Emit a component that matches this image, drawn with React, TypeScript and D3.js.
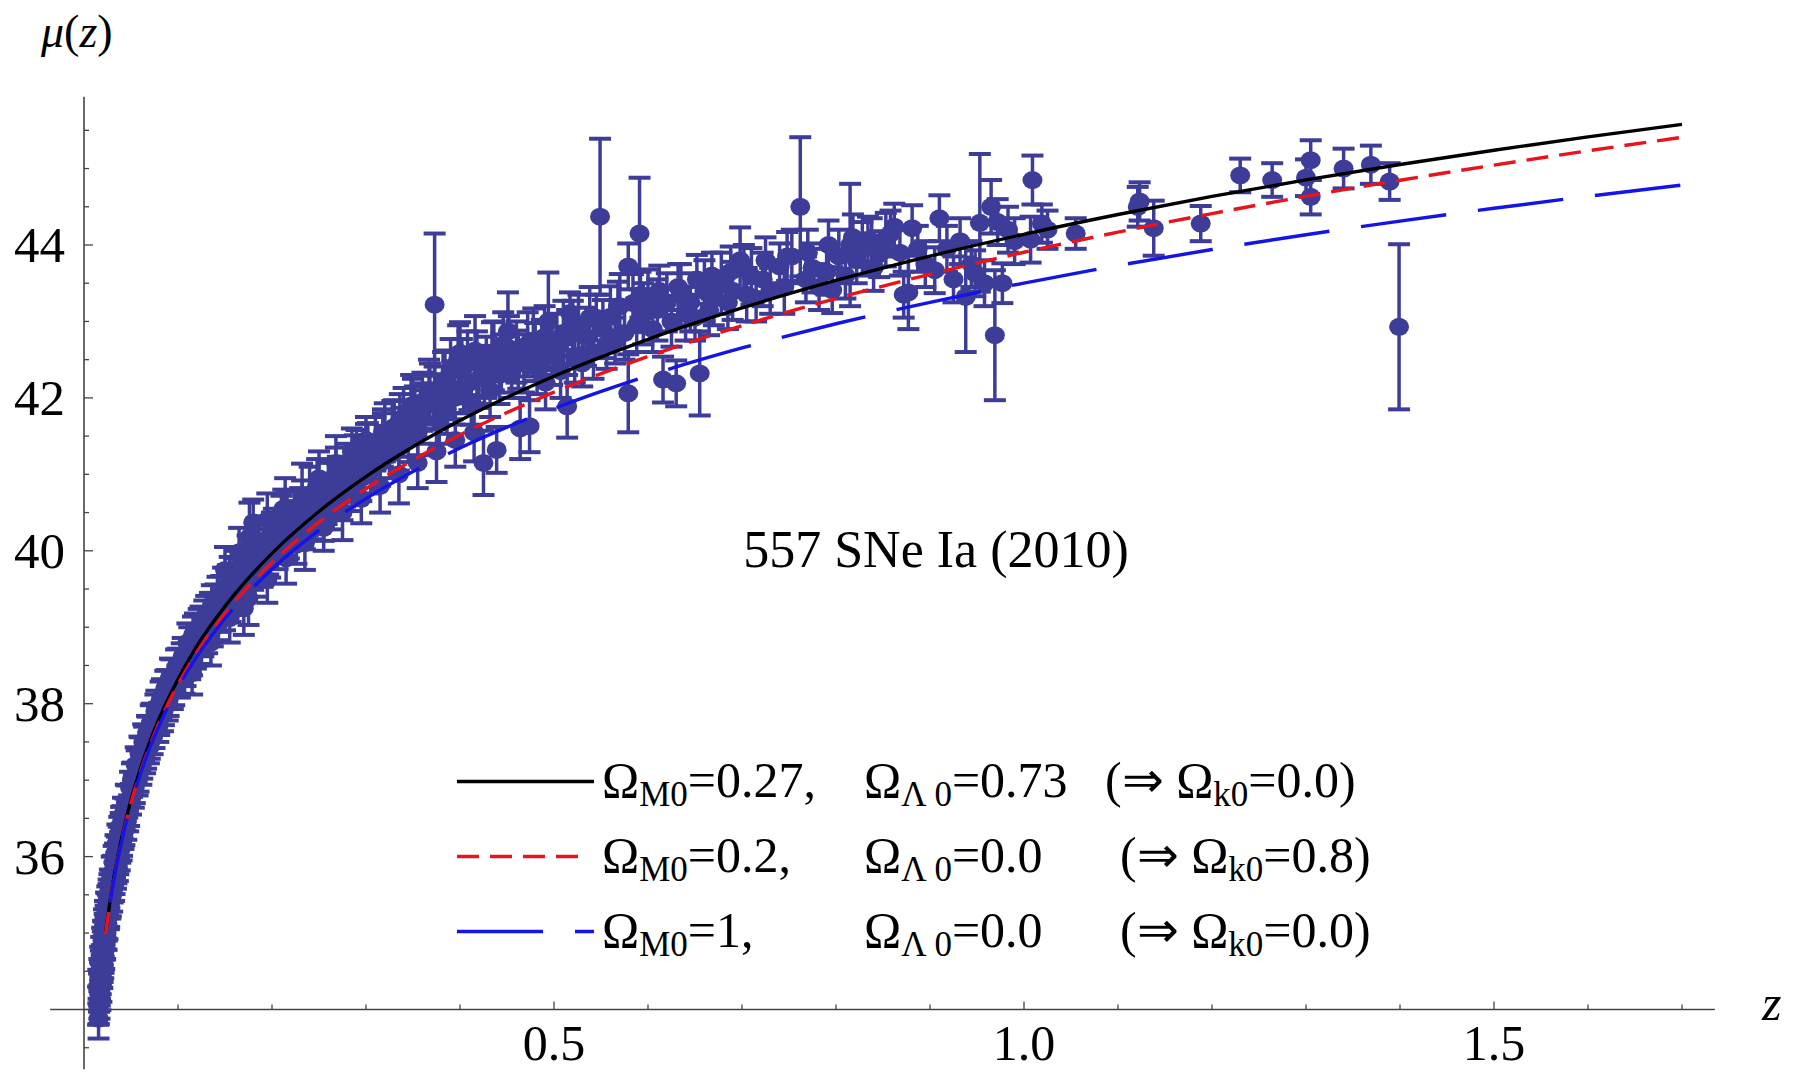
import React from "react";
import * as d3 from "d3";

// ---------- data ----------
const snZ: number[] = [
  0.0150,0.0155,0.0160,0.0165,0.0170,0.0175,0.0180,0.0185,0.0190,0.0195,
  0.0200,0.0205,0.0210,0.0215,0.0220,0.0225,0.0230,0.0240,0.0245,0.0250,
  0.0260,0.0265,0.0270,0.0280,0.0290,0.0300,0.0310,0.0320,0.0330,0.0340,
  0.0350,0.0360,0.0370,0.0380,0.0390,0.0400,0.0410,0.0420,0.0440,0.0450,
  0.0460,0.0480,0.0490,0.0500,0.0520,0.0540,0.0560,0.0580,0.0600,0.0620,
  0.0640,0.0660,0.0680,0.0700,0.0720,0.0750,0.0770,0.0800,0.0830,0.0850,
  0.0880,0.0900,0.0930,0.0960,0.1000,
  0.102,0.105,0.108,0.110,0.113,0.116,0.119,0.122,0.125,0.128,
  0.131,0.134,0.137,0.140,0.143,0.146,0.150,0.153,0.156,0.160,
  0.163,0.166,0.170,0.172,0.176,0.178,0.182,0.186,0.190,0.194,
  0.198,0.202,0.206,0.210,0.214,0.218,0.222,0.226,0.230,0.235,
  0.240,0.245,0.250,0.255,0.260,0.265,0.270,0.275,0.280,0.285,
  0.290,0.295,0.300,
  0.305,0.310,0.315,0.320,0.325,0.330,0.335,0.340,0.345,0.350,
  0.355,0.360,0.363,0.367,0.373,0.373,0.378,0.382,0.386,0.390,
  0.394,0.398,0.400,0.404,0.408,0.412,0.416,0.420,0.425,0.428,
  0.432,0.436,0.439,0.442,0.446,0.451,0.455,0.460,0.464,0.468,
  0.474,0.478,0.482,0.487,0.491,0.494,0.498,
  0.503,0.507,0.510,0.514,0.514,0.517,0.522,0.526,0.530,0.534,
  0.538,0.542,0.549,0.552,0.556,0.560,0.565,0.570,0.575,0.579,
  0.579,0.584,0.588,0.591,0.595,0.600,0.605,0.610,0.616,0.620,
  0.625,0.630,0.635,0.640,0.645,0.650,0.655,0.660,0.665,0.670,
  0.678,0.685,0.690,0.698,0.705,0.710,
  0.715,0.722,0.730,0.740,0.745,0.753,0.762,0.768,0.775,0.782,
  0.790,0.796,0.803,0.810,0.815,0.822,0.828,0.834,0.840,0.846,
  0.853,0.862,0.868,0.872,0.877,0.881,0.887,0.895,0.905,0.910,
  0.918,0.925,0.932,0.938,0.944,0.948,0.953,0.958,0.965,0.969,
  0.972,0.977,0.983,0.990,1.007,1.009,1.019,1.025,
  1.055,1.121,1.123,1.138,1.188,1.230,1.264,1.300,1.305,1.305,
  1.340,1.369,1.389,1.399,
  // second pass, dense low-z column
  0.0152,0.0158,0.0163,0.0168,0.0172,0.0178,0.0183,0.0188,0.0193,0.0198,
  0.0203,0.0208,0.0213,0.0218,0.0223,0.0228,0.0235,0.0242,0.0248,0.0255,
  0.0262,0.0268,0.0275,0.0285,0.0295,0.0305,0.0315,0.0325,0.0335,0.0345,
  0.0355,0.0365,0.0375,0.0385,0.0395,0.0405,0.0415,0.0430,0.0445,0.0470,
  0.0510,0.0530,0.0550,0.0570,0.0590,0.0610,0.0630,0.0650,0.0670,0.0690,
  0.0710,0.0730,0.0760,0.0790,0.0815,0.0840,0.0865,0.0890,0.0915,0.0945,0.0980,
  // second pass, 0.1 - 0.3
  0.104,0.107,0.112,0.115,0.118,0.121,0.124,0.127,0.130,0.133,
  0.136,0.139,0.142,0.145,0.148,0.152,0.155,0.158,0.162,0.168,
  0.174,0.180,0.184,0.188,0.192,0.196,0.200,0.208,0.216,0.224,
  0.232,0.238,0.248,0.258,0.268,0.278,0.288,
  // second pass, 0.3 - 0.5
  0.302,0.308,0.318,0.328,0.338,0.348,0.358,0.368,0.376,0.384,
  0.392,0.402,0.410,0.418,0.426,0.434,0.444,0.452,0.462,0.472,
  0.480,0.490,
  // second pass, 0.5 - 0.86
  0.520,0.545,0.568,0.592,0.612,0.632,0.652,0.668,0.688,0.702,
  0.725,0.748,0.770,0.792,0.818,0.838,0.858,
  // upper edge of the band, 0.15 - 0.35
  0.150,0.165,0.180,0.195,0.212,0.232,0.250,0.268,0.285,0.300,
  0.318,0.336,0.352,
  // lower edge of the band, 0.11 - 0.42
  0.115,0.135,0.155,0.175,0.195,0.215,0.235,0.255,0.275,0.295,
  0.315,0.335,0.355,0.375,0.395,0.415,
];
const snMu: number[] = [
  34.05,33.88,34.22,34.10,34.38,34.20,34.55,34.35,34.62,34.48,
  34.80,34.62,34.92,34.75,35.05,34.88,35.15,35.00,35.30,35.12,
  35.42,35.25,35.55,35.40,35.62,35.50,35.80,35.62,35.95,35.78,
  36.05,35.88,36.18,36.02,36.35,36.15,36.45,36.30,36.55,36.42,
  36.72,36.60,36.90,36.75,37.02,36.90,37.18,37.05,37.35,37.22,
  37.48,37.35,37.62,37.48,37.78,37.62,37.95,37.80,38.10,37.92,
  38.22,38.05,38.35,38.20,38.50,
  38.30,38.62,38.45,38.80,38.55,38.90,38.68,38.98,38.75,39.10,
  38.88,39.20,38.98,39.30,39.05,39.42,39.20,39.55,39.30,39.62,
  39.40,39.75,39.25,39.60,40.18,39.85,39.65,40.00,39.78,40.15,
  39.90,40.25,40.02,40.40,40.55,40.18,40.35,40.08,40.50,40.30,
  40.72,40.45,40.62,40.40,40.80,40.58,40.90,40.70,41.05,40.82,
  41.20,40.95,41.30,
  41.05,41.40,41.15,41.55,41.25,41.62,41.35,41.75,41.48,41.85,
  41.55,41.95,41.89,42.10,43.22,42.06,41.70,42.20,41.85,42.35,
  42.00,42.50,42.59,42.15,42.45,41.95,42.62,42.25,41.15,42.40,
  42.10,42.55,41.32,42.30,42.70,42.87,42.35,42.60,41.60,42.45,
  41.63,42.75,42.40,42.62,42.20,43.00,42.55,
  42.70,42.35,42.85,42.80,41.89,43.11,42.55,42.95,42.45,42.80,
  43.05,42.60,44.37,42.90,42.70,43.06,42.75,43.20,42.85,43.72,
  42.06,43.24,42.95,44.15,43.10,43.30,42.90,43.15,42.24,43.25,
  43.00,42.19,43.35,43.10,43.25,43.05,42.32,43.40,43.15,43.30,
  43.50,43.25,43.40,43.80,43.35,43.59,
  43.30,43.55,43.40,43.72,43.45,43.85,44.50,43.55,43.70,43.45,
  43.65,43.41,43.85,43.60,44.00,43.80,43.95,44.07,43.70,43.88,
  44.07,44.24,43.90,43.35,43.38,44.22,43.95,43.75,43.67,44.35,
  43.95,43.55,44.05,43.32,43.75,43.63,44.29,43.50,44.50,42.82,
  44.30,43.50,44.20,44.05,44.07,44.85,44.28,44.20,
  44.15,44.50,44.57,44.22,44.28,44.91,44.85,44.88,45.11,44.63,
  45.00,45.05,44.83,42.93,
  34.30,34.05,34.45,34.28,34.60,34.40,34.72,34.50,34.85,34.60,
  34.95,34.70,35.08,34.85,35.20,35.00,35.30,35.12,35.40,35.28,
  35.50,35.30,35.62,35.45,35.78,35.60,35.92,35.72,36.05,35.85,
  36.20,35.98,36.30,36.12,36.42,36.22,36.55,36.35,36.70,36.55,
  37.00,36.85,37.20,37.00,37.35,37.15,37.50,37.30,37.62,37.42,
  37.75,37.55,37.90,37.70,38.05,37.85,38.20,38.00,38.35,38.15,38.48,
  38.55,38.35,38.75,38.60,38.92,38.72,39.02,38.85,39.15,39.00,
  39.28,39.05,39.40,39.18,39.50,39.35,39.65,39.45,39.72,39.60,
  39.90,39.75,40.05,39.85,40.10,39.95,40.20,40.15,40.45,40.30,
  40.60,40.50,40.85,40.65,41.00,40.90,41.15,
  41.35,41.20,41.45,41.60,41.55,41.90,41.75,42.05,41.95,42.20,
  42.10,42.35,42.20,42.45,42.30,42.55,42.45,42.65,42.50,42.70,
  42.60,42.80,
  42.95,43.05,43.20,43.35,43.40,43.45,43.55,43.60,43.65,43.70,
  43.80,43.85,43.90,44.00,44.10,44.05,44.15,
  39.75,39.98,40.37,40.40,40.55,40.72,40.95,41.15,41.30,41.45,
  41.55,41.70,41.85,
  38.40,38.80,39.12,39.38,39.62,39.90,40.10,40.30,40.50,40.68,
  40.85,41.00,41.15,41.30,41.45,41.55,
];
const snErr: number[] = [
  0.25,0.26,0.25,0.22,0.24,0.21,0.22,0.25,0.22,0.20,
  0.22,0.21,0.23,0.22,0.20,0.22,0.21,0.22,0.22,0.20,
  0.22,0.20,0.22,0.21,0.20,0.22,0.21,0.20,0.22,0.20,
  0.21,0.20,0.21,0.20,0.22,0.20,0.21,0.20,0.21,0.20,
  0.21,0.20,0.21,0.20,0.21,0.20,0.21,0.20,0.21,0.20,
  0.22,0.20,0.21,0.20,0.22,0.20,0.22,0.21,0.22,0.20,
  0.22,0.21,0.23,0.22,0.22,
  0.22,0.24,0.22,0.25,0.23,0.24,0.22,0.26,0.23,0.25,
  0.22,0.25,0.23,0.26,0.22,0.25,0.24,0.26,0.23,0.28,
  0.24,0.30,0.35,0.25,0.45,0.26,0.25,0.28,0.25,0.30,
  0.25,0.30,0.26,0.32,0.40,0.28,0.30,0.25,0.32,0.28,
  0.38,0.30,0.30,0.27,0.35,0.30,0.33,0.30,0.35,0.30,
  0.38,0.30,0.36,
  0.30,0.35,0.30,0.38,0.30,0.35,0.30,0.38,0.32,0.40,
  0.30,0.38,0.30,0.40,0.93,0.35,0.30,0.40,0.32,0.42,
  0.35,0.45,0.40,0.35,0.42,0.30,0.45,0.38,0.42,0.40,
  0.35,0.45,0.30,0.38,0.42,0.51,0.35,0.40,0.40,0.38,
  0.34,0.42,0.35,0.40,0.35,0.64,0.38,
  0.40,0.35,0.42,0.35,0.41,0.27,0.35,0.40,0.30,0.38,
  0.40,0.35,1.02,0.38,0.32,0.40,0.30,0.42,0.35,0.30,
  0.51,0.38,0.35,0.73,0.40,0.38,0.30,0.40,0.30,0.38,
  0.33,0.30,0.40,0.35,0.38,0.30,0.55,0.40,0.33,0.35,
  0.40,0.35,0.38,0.43,0.35,0.37,
  0.30,0.35,0.30,0.30,0.35,0.35,0.91,0.30,0.32,0.30,
  0.30,0.30,0.35,0.30,0.80,0.30,0.35,0.30,0.30,0.30,
  0.35,0.30,0.30,0.30,0.48,0.30,0.30,0.30,0.30,0.30,
  0.30,0.30,0.30,0.72,0.30,0.30,0.90,0.30,0.35,0.85,
  0.30,0.26,0.30,0.30,0.30,0.32,0.25,0.25,
  0.20,0.26,0.25,0.36,0.23,0.22,0.22,0.24,0.26,0.23,
  0.26,0.25,0.24,1.08,
  0.22,0.24,0.21,0.23,0.22,0.20,0.23,0.21,0.22,0.24,
  0.21,0.22,0.23,0.20,0.22,0.21,0.23,0.22,0.21,0.22,
  0.20,0.22,0.21,0.23,0.22,0.20,0.22,0.21,0.23,0.20,
  0.22,0.21,0.22,0.20,0.23,0.21,0.22,0.20,0.24,0.22,
  0.22,0.21,0.23,0.20,0.22,0.21,0.23,0.21,0.22,0.20,
  0.23,0.21,0.22,0.20,0.24,0.21,0.23,0.22,0.24,0.22,0.23,
  0.24,0.22,0.25,0.23,0.26,0.22,0.25,0.23,0.26,0.24,
  0.27,0.23,0.26,0.24,0.28,0.25,0.27,0.24,0.28,0.25,
  0.30,0.26,0.30,0.27,0.30,0.26,0.30,0.28,0.32,0.28,
  0.32,0.30,0.35,0.30,0.35,0.32,0.36,
  0.32,0.30,0.35,0.36,0.32,0.40,0.35,0.40,0.36,0.42,
  0.38,0.42,0.36,0.42,0.38,0.44,0.38,0.42,0.38,0.42,
  0.38,0.40,
  0.32,0.30,0.32,0.30,0.33,0.30,0.32,0.30,0.33,0.30,
  0.30,0.32,0.30,0.32,0.30,0.30,0.30,
  0.30,0.32,0.30,0.35,0.25,0.42,0.35,0.35,0.30,0.30,
  0.30,0.35,0.30,
  0.28,0.30,0.32,0.35,0.30,0.33,0.35,0.30,0.36,0.32,
  0.35,0.38,0.33,0.40,0.35,0.38,
];

// model curves
const curveZ = [0.023,0.03,0.04,0.05,0.06,0.07,0.08,0.1,0.12,0.15,0.2,0.25,0.3,0.35,0.4,0.45,0.5,0.6,0.7,0.8,0.9,1.0,1.1,1.2,1.3,1.4,1.5,1.6,1.7];
const muLCDM = [35.007,35.596,36.237,36.738,37.149,37.500,37.806,38.319,38.753,39.273,39.966,40.514,40.970,41.360,41.703,42.008,42.284,42.766,43.177,43.536,43.855,44.140,44.399,44.635,44.852,45.053,45.240,45.415,45.578];
const muOpen = [34.990,35.573,36.208,36.702,37.107,37.451,37.751,38.253,38.669,39.179,39.847,40.374,40.812,41.187,41.516,41.809,42.075,42.542,42.945,43.300,43.617,43.905,44.168,44.411,44.637,44.847,45.045,45.232,45.408];
const muEdS = [34.980,35.561,36.190,36.680,37.081,37.421,37.715,38.210,38.615,39.114,39.760,40.266,40.682,41.036,41.344,41.617,41.862,42.290,42.653,42.970,43.250,43.502,43.731,43.941,44.134,44.313,44.480,44.637,44.784];

const yTickLabels = [36, 38, 40, 42, 44];
const xTickLabels = ["0.5", "1.0", "1.5"];
const legendOmegaM = ["0.27", "0.2", "1"];
const legendOmegaL = ["0.73", "0.0", "0.0"];
const legendOmegaK = ["0.0", "0.8", "0.0"];
const annotation = "557 SNe Ia (2010)";
const xAxisTitle = "z";

// ---------- styles ----------
const W = 1802, H = 1073;
const SERIF = '"Liberation Serif", "Times New Roman", Times, serif';
const PT = "#3d3d99";
const AXIS = "#444";

export default function App() {
  const x = d3.scaleLinear().domain([0, 1.5]).range([84, 1494]);
  const y = d3.scaleLinear().domain([34, 44]).range([1009.5, 245]);

  const line = d3
    .line<[number, number]>()
    .x((d) => x(d[0]))
    .y((d) => y(d[1]))
    .curve(d3.curveMonotoneX);
  const pathOf = (mu: number[]) =>
    line(curveZ.map((z, i) => [z, mu[i]] as [number, number])) || "";

  const yMinor = d3.range(33.5, 46.0, 0.5);
  const xMinor = d3.range(1, 18).map((k) => k / 10);
  const capHalf = 11;

  const legendColors = ["#000000", "#e8141c", "#1414e6"];
  const legendDash = ["none", "22 11", "86 32"];
  const legendEnd = [594, 578, 594];
  const col3X = [1105, 1120, 1120];

  return (
    <svg
      width={W}
      height={H}
      viewBox={`0 0 ${W} ${H}`}
      style={{ position: "absolute", left: 0, top: 0, background: "#fff", fontFamily: SERIF }}
    >
      <rect x={0} y={0} width={W} height={H} fill="#fff" />

      {/* axes */}
      <line x1={x(0)} x2={x(0)} y1={y(33.22)} y2={y(45.94)} stroke={AXIS} strokeWidth={1.6} />
      <line x1={x(-0.036)} x2={x(1.735)} y1={y(34)} y2={y(34)} stroke={AXIS} strokeWidth={1.6} />
      {yMinor.map((v) => {
        const major = yTickLabels.includes(v);
        return (
          <line key={"yt" + v} x1={x(0)} x2={x(0) + (major ? 9 : 5)} y1={y(v)} y2={y(v)} stroke={AXIS} strokeWidth={1.3} />
        );
      })}
      {xMinor.map((v) => {
        const major = Math.abs(v * 2 - Math.round(v * 2)) < 1e-9;
        return (
          <line key={"xt" + v} x1={x(v)} x2={x(v)} y1={y(34)} y2={y(34) - (major ? 8 : 5)} stroke={AXIS} strokeWidth={1.3} />
        );
      })}
      {yTickLabels.map((v) => (
        <text key={"yl" + v} x={65} y={y(v) + 17} fontSize={51} textAnchor="end" fill="#000">
          {v}
        </text>
      ))}
      {xTickLabels.map((s) => (
        <text key={"xl" + s} x={x(+s)} y={1060} fontSize={50} textAnchor="middle" fill="#000">
          {s}
        </text>
      ))}
      <text x={41} y={47} fontSize={46} fill="#000">
        <tspan fontStyle="italic">{"\u03bc"}</tspan>
        <tspan>(</tspan>
        <tspan fontStyle="italic">z</tspan>
        <tspan>)</tspan>
      </text>
      <text x={1762} y={1020} fontSize={50} fontStyle="italic" fill="#000">{xAxisTitle}</text>

      {/* data: error bars + points */}
      <g stroke={PT} strokeWidth={3.5} fill="none">
        {snZ.map((z, i) => {
          const cx = x(z);
          const top = y(snMu[i] + snErr[i]);
          const bot = y(snMu[i] - snErr[i]);
          return (
            <g key={"e" + i}>
              <line x1={cx} x2={cx} y1={top} y2={bot} />
              <line x1={cx - capHalf} x2={cx + capHalf} y1={top} y2={top} strokeWidth={4} />
              <line x1={cx - capHalf} x2={cx + capHalf} y1={bot} y2={bot} strokeWidth={4} />
            </g>
          );
        })}
      </g>
      <g fill={PT}>
        {snZ.map((z, i) => (
          <ellipse key={"p" + i} cx={x(z)} cy={y(snMu[i])} rx={10} ry={9} />
        ))}
      </g>

      {/* model curves */}
      <path d={pathOf(muLCDM)} fill="none" stroke={legendColors[0]} strokeWidth={3.4} />
      <path d={pathOf(muOpen)} fill="none" stroke={legendColors[1]} strokeWidth={3.4} strokeDasharray={legendDash[1]} />
      <path d={pathOf(muEdS)} fill="none" stroke={legendColors[2]} strokeWidth={3.4} strokeDasharray={legendDash[2]} strokeDashoffset={86} />

      {/* annotation */}
      <text x={936} y={567} fontSize={52} textAnchor="middle" fill="#000">{annotation}</text>

      {/* legend */}
      {legendOmegaM.map((m, i) => {
        const ly = 781.5 + i * 75;
        const base = ly + 15;
        return (
          <g key={"lg" + i}>
            <line x1={457} x2={legendEnd[i]} y1={ly} y2={ly} stroke={legendColors[i]} strokeWidth={3.4}
              strokeDasharray={legendDash[i] === "none" ? undefined : legendDash[i]} />
            <text x={602} y={base} fontSize={50} fill="#000">
              <tspan>{"\u03a9"}</tspan>
              <tspan fontSize={35} dy={9}>M0</tspan>
              <tspan dy={-9}>{"=" + m + ","}</tspan>
            </text>
            <text x={864} y={base} fontSize={50} fill="#000">
              <tspan>{"\u03a9"}</tspan>
              <tspan fontSize={35} dy={9}>{"\u039b 0"}</tspan>
              <tspan dy={-9}>{"=" + legendOmegaL[i]}</tspan>
            </text>
            <text x={col3X[i]} y={base} fontSize={50} fill="#000">
              <tspan>{"(\u21d2 \u03a9"}</tspan>
              <tspan fontSize={35} dy={9}>k0</tspan>
              <tspan dy={-9}>{"=" + legendOmegaK[i] + ")"}</tspan>
            </text>
          </g>
        );
      })}
    </svg>
  );
}
